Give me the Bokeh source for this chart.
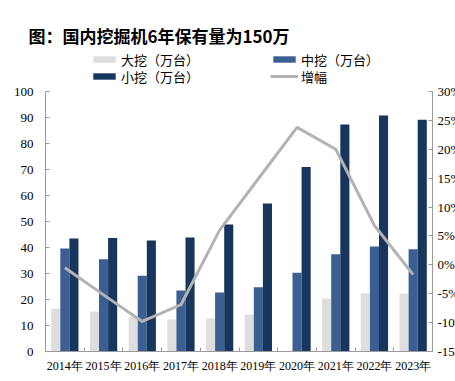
import numpy as np
from bokeh.plotting import figure
from bokeh.models import (Range1d, LinearAxis, FixedTicker, ColumnDataSource,
                          Legend, LegendItem)
from bokeh.transform import dodge
from bokeh.embed import file_html
from bokeh.resources import INLINE

# ---- data ----
years = ["2014年", "2015年", "2016年", "2017年", "2018年",
         "2019年", "2020年", "2021年", "2022年", "2023年"]
large = [16.4, 15.4, 13.5, 12.3, 12.7, 14.2, float("nan"), 20.4, 22.4, 22.2]
medium = [39.6, 35.5, 29.1, 23.5, 22.7, 24.7, 30.3, 37.4, 40.4, 39.3]
small = [43.5, 43.7, 42.7, 43.8, 48.8, 56.9, 71.0, 87.3, 90.8, 89.1]
growth = [-0.5, -5.2, -9.8, -6.9, 6.0, 14.9, 23.8, 20.0, 6.8, -1.7]
left_ticks = list(range(0, 101, 10))
right_ticks = list(range(-15, 31, 5))
right_tick_labels = [f"{t}%" for t in right_ticks]
title_text = "图：国内挖掘机6年保有量为150万"

C_LARGE = "#dedede"
C_MED = "#3b5f92"
C_SMALL = "#17365d"
C_LINE = "#b3b3b3"
AX = "#9a9a9a"

# layout (pixels)
W, H = 455, 381
FRAME_LEFT, AXIS_RIGHT = 45, 432
FRAME_TOP, AXIS_BOTTOM, AXIS_TOP = 48, 351, 91

pos = list(range(1, len(years) + 1))
src = ColumnDataSource(dict(x=pos, large=large, medium=medium, small=small, growth=growth))

x0, x1 = 0.5, len(years) + 0.5
lmin, lmax = left_ticks[0], left_ticks[-1]
rmin, rmax = right_ticks[0], right_ticks[-1]

def stretched(a, b):
    k = (b - a) / (AXIS_BOTTOM - AXIS_TOP)
    return Range1d(a - (H - AXIS_BOTTOM) * k, b + (AXIS_TOP - FRAME_TOP) * k)

p = figure(width=W, height=H,
           x_range=Range1d(x0, x0 + (x1 - x0) * (W - FRAME_LEFT) / (AXIS_RIGHT - FRAME_LEFT)),
           y_range=stretched(lmin, lmax),
           output_backend="svg", toolbar_location=None,
           min_border_left=FRAME_LEFT, min_border_right=0, min_border_top=FRAME_TOP,
           min_border_bottom=0)
p.extra_y_ranges = {"pct": stretched(rmin, rmax)}
p.xgrid.visible = False
p.ygrid.visible = False
p.outline_line_color = None

bw = 0.235
r_large = p.vbar(x=dodge("x", -bw), top="large", width=bw, source=src,
                 fill_color=C_LARGE, line_color=None)
r_med = p.vbar(x="x", top="medium", width=bw, source=src,
               fill_color=C_MED, line_color=None)
r_small = p.vbar(x=dodge("x", bw), top="small", width=bw, source=src,
                 fill_color=C_SMALL, line_color=None)
r_line = p.line(x="x", y="growth", source=src, y_range_name="pct",
                line_color=C_LINE, line_width=3)

# x axis, pinned at y = 0
xa = p.xaxis[0]
xa.fixed_location = lmin
xa.bounds = (x0, x1)
xa.ticker = FixedTicker(ticks=pos, minor_ticks=[v - 0.5 for v in pos] + [x1])
xa.major_label_overrides = {v: years[i] for i, v in enumerate(pos)}
xa.major_tick_in = 0
xa.major_tick_out = 0
xa.minor_tick_in = 4
xa.minor_tick_out = 0
xa.minor_tick_line_color = AX
xa.axis_line_color = AX
xa.major_label_text_font = "Liberation Serif"
xa.major_label_text_font_size = "12px"
xa.major_label_text_color = "#000000"
xa.major_label_standoff = 7

# left y axis
ya = p.yaxis[0]
ya.ticker = FixedTicker(ticks=left_ticks)
ya.bounds = (lmin, lmax)
ya.major_tick_in = 4
ya.major_tick_out = 0
ya.minor_tick_line_color = None
ya.axis_line_color = AX
ya.major_tick_line_color = AX
ya.major_label_text_font = "Liberation Serif"
ya.major_label_text_font_size = "13px"
ya.major_label_text_color = "#000000"
ya.major_label_standoff = 12

# right y axis, pinned to the right end of the category range
ra = LinearAxis(y_range_name="pct", ticker=FixedTicker(ticks=right_ticks),
                bounds=(rmin, rmax), fixed_location=x1)
ra.major_label_overrides = {t: right_tick_labels[i] for i, t in enumerate(right_ticks)}
ra.major_tick_in = 4
ra.major_tick_out = 0
ra.minor_tick_line_color = None
ra.axis_line_color = AX
ra.major_tick_line_color = AX
ra.major_label_text_font = "Liberation Serif"
ra.major_label_text_font_size = "13px"
ra.major_label_text_color = "#000000"
ra.major_label_standoff = 5
p.add_layout(ra, "right")

# title
p.title.text = title_text
p.title.align = "left"
p.title.offset = -17
p.title.text_font = "Noto Sans CJK SC"
p.title.text_font_style = "bold"
p.title.text_font_size = "17px"
p.title.text_color = "#000000"
p.title.standoff = 1

# legends (two rows, inside the stretched frame above the data)
ITEM_H = 17
def mk_legend(items, center_y):
    loc = (45, H - (center_y + ITEM_H / 2))
    return Legend(items=items, orientation="horizontal", location=loc,
                  glyph_width=28, glyph_height=8, label_height=13, label_standoff=3,
                  spacing=71, padding=0, margin=0, border_line_color=None,
                  background_fill_alpha=0, label_text_font="Noto Sans CJK SC",
                  label_text_font_size="13px", label_text_color="#000000")

p.add_layout(mk_legend([LegendItem(label="大挖（万台）", renderers=[r_large]),
                        LegendItem(label="中挖（万台）", renderers=[r_med])], 60))
p.add_layout(mk_legend([LegendItem(label="小挖（万台）", renderers=[r_small]),
                        LegendItem(label="增幅", renderers=[r_line])], 77))

open("out.html", "w").write(file_html(p, INLINE))
